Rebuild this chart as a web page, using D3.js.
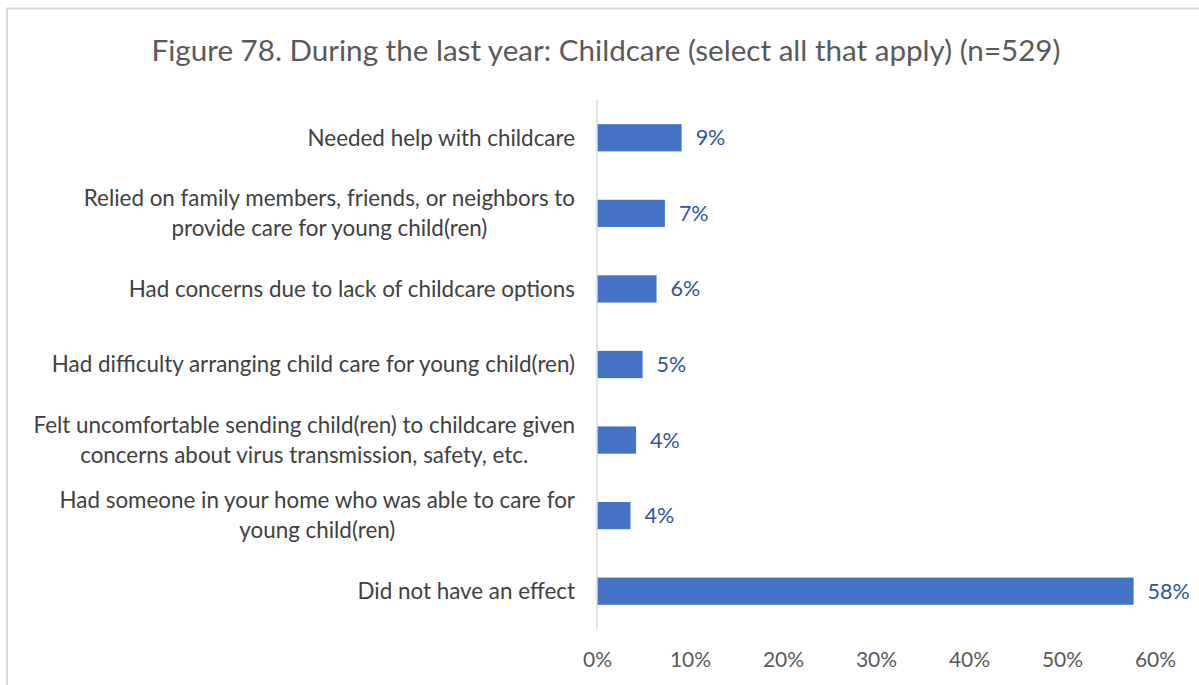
<!DOCTYPE html>
<html><head><meta charset="utf-8">
<script src="https://cdn.jsdelivr.net/npm/d3@7"></script>
<style>body{margin:0;background:#fff;} svg{display:block;}</style>
</head><body>
<svg id="c" width="1199" height="685"></svg>
<script>
const categories = [
  ["Needed help with childcare"],
  ["Relied on family members, friends, or neighbors to", "provide care for young child(ren)"],
  ["Had concerns due to lack of childcare options"],
  ["Had difficulty arranging child care for young child(ren)"],
  ["Felt uncomfortable sending child(ren) to childcare given", "concerns about virus transmission, safety, etc."],
  ["Had someone in your home who was able to care for", "young child(ren)"],
  ["Did not have an effect"]
];
const values = [9.1, 7.3, 6.4, 4.9, 4.2, 3.6, 57.7];
const valueLabels = ["9%", "7%", "6%", "5%", "4%", "4%", "58%"];
const ticks = [0, 10, 20, 30, 40, 50, 60];
const title = "Figure 78. During the last year: Childcare (select all that apply) (n=529)";

const svg = d3.select("#c");
const font = "Lato, 'Open Sans', sans-serif";
// border
svg.append("path").attr("d","M7,685 V8.5 H1199").attr("fill","none").attr("stroke","#d9d9d9").attr("stroke-width",2);

svg.append("text").attr("x",606).attr("y",61).attr("text-anchor","middle")
  .attr("font-family",font).attr("font-size",29.6).attr("fill","#595959").text(title);

const x = d3.scaleLinear().domain([0,60]).range([597,1155]);
const y = d3.scaleBand().domain(d3.range(categories.length)).range([100,629]).paddingInner(0.64).paddingOuter(0.32);

svg.selectAll("rect.bar").data(values).join("rect").attr("class","bar")
  .attr("x",x(0)).attr("y",(d,i)=>y(i)).attr("width",d=>x(d)-x(0)).attr("height",y.bandwidth())
  .attr("fill","#4472c4");

svg.append("line").attr("x1",597).attr("x2",597).attr("y1",100).attr("y2",629).attr("stroke","#d9d9d9").attr("stroke-width",1.5);

const xAxis = svg.append("g").attr("transform","translate(0,629)")
  .call(d3.axisBottom(x).tickValues(ticks).tickFormat(d=>d+"%").tickSize(0).tickPadding(23));
xAxis.select(".domain").remove();
xAxis.selectAll("text").attr("font-family",font).attr("font-size",21).attr("fill","#595959");

svg.selectAll("text.vl").data(values).join("text").attr("class","vl")
  .attr("x",d=>x(d)+14).attr("y",(d,i)=>y(i)+y.bandwidth()/2).attr("dy","0.35em")
  .attr("font-family",font).attr("font-size",21.5).attr("fill","#2f5597").text((d,i)=>valueLabels[i]);

categories.forEach((lines,i)=>{
  const cy = y(i)+y.bandwidth()/2;
  const g = svg.append("g");
  const lh = 30;
  const t = g.selectAll("text").data(lines).join("text")
    .attr("y",(d,j)=>cy + (j-(lines.length-1)/2)*lh).attr("dy","0.35em")
    .attr("text-anchor","middle").attr("font-family",font).attr("font-size",22.4).attr("fill","#404040").text(d=>d);
  let w = 0; t.each(function(){w=Math.max(w,this.getComputedTextLength());});
  t.attr("x",575 - w/2);
});
</script>
</body></html>
